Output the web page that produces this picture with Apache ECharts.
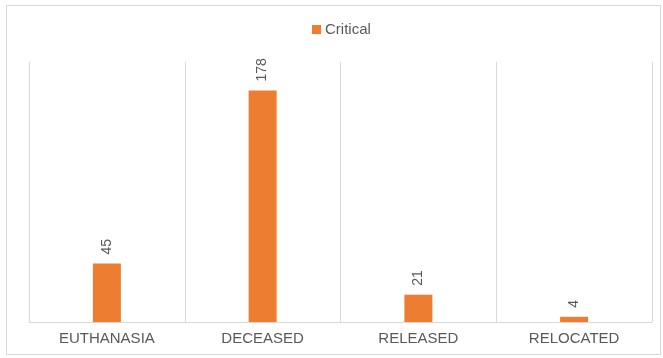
<!DOCTYPE html>
<html>
<head>
<meta charset="utf-8">
<script src="https://cdn.jsdelivr.net/npm/echarts@6/dist/echarts.min.js"></script>
<style>
  html, body { margin: 0; padding: 0; background: #fff; }
  #frame { position: absolute; left: 6px; top: 5px; width: 655px; height: 350px; border: 1px solid #d9d9d9; box-sizing: border-box; }
  #chart { position: absolute; left: 0; top: 0; width: 663px; height: 358px; }
</style>
</head>
<body>
<div id="frame"></div>
<div id="chart"></div>
<script>
const categories = ['EUTHANASIA', 'DECEASED', 'RELEASED', 'RELOCATED'];
const criticalValues = [45, 178, 21, 4];
const seriesName = 'Critical';

const FONT = '"Liberation Sans", Arial, sans-serif';

const chart = echarts.init(document.getElementById('chart'), null, { renderer: 'canvas' });
chart.setOption({
  animation: false,
  legend: {
    top: 17,
    left: 307,
    itemWidth: 9,
    itemHeight: 9,
    itemGap: 5,
    icon: 'rect',
    textStyle: { color: '#595959', fontSize: 15, fontFamily: FONT, padding: [0, 0, 0, -1] },
    data: [seriesName]
  },
  grid: { left: 29, right: 11, top: 62, bottom: 36 },
  xAxis: {
    type: 'category',
    data: categories,
    boundaryGap: true,
    axisLine: { show: true, lineStyle: { color: '#d9d9d9' } },
    axisTick: { show: false },
    splitLine: { show: true, lineStyle: { color: '#d9d9d9', width: 1 } },
    axisLabel: { color: '#595959', fontSize: 15, margin: 9, fontFamily: FONT }
  },
  yAxis: {
    type: 'value',
    min: 0,
    max: 200,
    show: false,
    splitLine: { show: false }
  },
  series: [{
    name: seriesName,
    type: 'bar',
    data: criticalValues,
    barWidth: 28,
    itemStyle: { color: '#ED7D31' },
    label: {
      show: true,
      position: 'top',
      rotate: 90,
      align: 'left',
      verticalAlign: 'middle',
      distance: 9,
      color: '#595959',
      fontSize: 14,
      fontFamily: FONT
    }
  }]
});
</script>
</body>
</html>
